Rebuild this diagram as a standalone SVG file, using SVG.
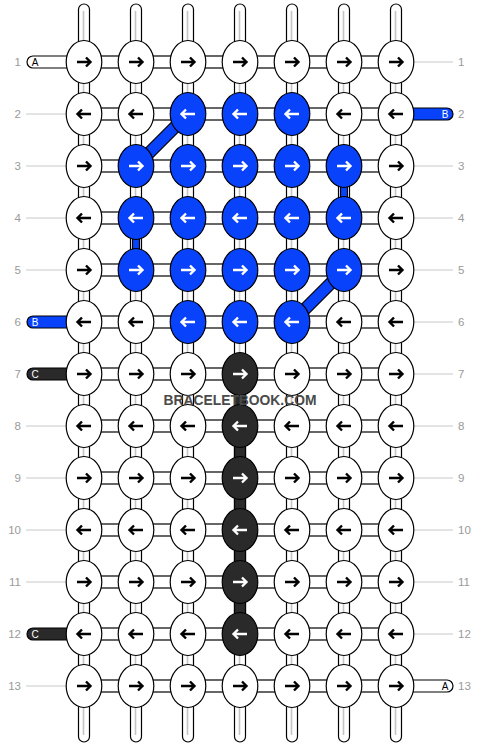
<svg xmlns="http://www.w3.org/2000/svg" xmlns:xlink="http://www.w3.org/1999/xlink" width="480" height="748" viewBox="0 0 480 748">
<style>
.bg{fill:#fff}
.str{fill:#fff;stroke:#000;stroke-width:1.2}
.core{stroke:#c4c4c4;stroke-width:1.6;fill:none}
.hb{fill:#fff;stroke:#000;stroke-width:1.2}
.vb{fill:#0842fb;stroke:#000;stroke-width:1.2}
.vd{fill:#2a2a2a;stroke:#000;stroke-width:1.2}
.gl{stroke:#c8c8c8;stroke-width:1}
.lbl{font-family:"Liberation Sans",Arial,sans-serif;font-size:11.5px;fill:#9a9a9a}
.sl{font-family:"Liberation Sans",Arial,sans-serif;font-size:10px;text-anchor:middle}
.w{fill:#fff;stroke:#000;stroke-width:1.2}
.b{fill:#0842fb;stroke:#000;stroke-width:1.2}
.d{fill:#2a2a2a;stroke:#000;stroke-width:1.2}
.ak{stroke:#000}
.aw{stroke:#fff}
.wm{font-family:"Liberation Sans",Arial,sans-serif;font-weight:bold;font-size:15px;fill:#4a4a4a;text-anchor:middle}
</style>
<defs>
<path id="R" d="M-7,0 H6 M2,-4.5 L6.5,0 L2,4.5" fill="none" stroke-width="2.4"/>
<path id="L" d="M7,0 H-6 M-2,-4.5 L-6.5,0 L-2,4.5" fill="none" stroke-width="2.4"/>
</defs>
<rect class="bg" x="0" y="0" width="480" height="748"/>
<g id="labels">
<g class="gl">
<line x1="26" y1="114" x2="67" y2="114"/><line x1="26" y1="166" x2="67" y2="166"/><line x1="26" y1="218" x2="67" y2="218"/><line x1="26" y1="270" x2="67" y2="270"/><line x1="26" y1="426" x2="67" y2="426"/><line x1="26" y1="478" x2="67" y2="478"/><line x1="26" y1="530" x2="67" y2="530"/><line x1="26" y1="582" x2="67" y2="582"/><line x1="26" y1="686" x2="67" y2="686"/>
<line x1="413" y1="62" x2="453" y2="62"/><line x1="413" y1="166" x2="453" y2="166"/><line x1="413" y1="218" x2="453" y2="218"/><line x1="413" y1="270" x2="453" y2="270"/><line x1="413" y1="322" x2="453" y2="322"/><line x1="413" y1="374" x2="453" y2="374"/><line x1="413" y1="426" x2="453" y2="426"/><line x1="413" y1="478" x2="453" y2="478"/><line x1="413" y1="530" x2="453" y2="530"/><line x1="413" y1="582" x2="453" y2="582"/><line x1="413" y1="634" x2="453" y2="634"/>
</g>
<g class="lbl" text-anchor="end">
<text x="21" y="66">1</text><text x="21" y="118">2</text><text x="21" y="170">3</text><text x="21" y="222">4</text><text x="21" y="274">5</text><text x="21" y="326">6</text><text x="21" y="378">7</text><text x="21" y="430">8</text><text x="21" y="482">9</text><text x="21" y="534">10</text><text x="21" y="586">11</text><text x="21" y="638">12</text><text x="21" y="690">13</text>
</g>
<g class="lbl" text-anchor="start">
<text x="458" y="66">1</text><text x="458" y="118">2</text><text x="458" y="170">3</text><text x="458" y="222">4</text><text x="458" y="274">5</text><text x="458" y="326">6</text><text x="458" y="378">7</text><text x="458" y="430">8</text><text x="458" y="482">9</text><text x="458" y="534">10</text><text x="458" y="586">11</text><text x="458" y="638">12</text><text x="458" y="690">13</text>
</g>
</g>
<g id="connectors">
<g class="str">
<rect x="78.5" y="4" width="11" height="738" rx="5.5"/>
<rect x="130.5" y="4" width="11" height="738" rx="5.5"/>
<rect x="182.5" y="4" width="11" height="738" rx="5.5"/>
<rect x="234.5" y="4" width="11" height="738" rx="5.5"/>
<rect x="286.5" y="4" width="11" height="738" rx="5.5"/>
<rect x="338.5" y="4" width="11" height="738" rx="5.5"/>
<rect x="390.5" y="4" width="11" height="738" rx="5.5"/>
</g>
<g class="core">
<line x1="83.5" y1="11" x2="83.5" y2="735"/>
<line x1="135.5" y1="11" x2="135.5" y2="735"/>
<line x1="187.5" y1="11" x2="187.5" y2="735"/>
<line x1="239.5" y1="11" x2="239.5" y2="735"/>
<line x1="291.5" y1="11" x2="291.5" y2="735"/>
<line x1="343.5" y1="11" x2="343.5" y2="735"/>
<line x1="395.5" y1="11" x2="395.5" y2="735"/>
</g>
<rect class="vb" x="340.5" y="166" width="7" height="52"/>
<rect class="vb" x="132.5" y="218" width="7" height="52"/>
<rect class="vd" x="234.5" y="374" width="11" height="260"/>
<g class="hb">
<rect x="84" y="56" width="312" height="12"/>
<rect x="84" y="108" width="312" height="12"/>
<rect x="84" y="160" width="312" height="12"/>
<rect x="84" y="212" width="312" height="12"/>
<rect x="84" y="264" width="312" height="12"/>
<rect x="84" y="316" width="312" height="12"/>
<rect x="84" y="368" width="312" height="12"/>
<rect x="84" y="420" width="312" height="12"/>
<rect x="84" y="472" width="312" height="12"/>
<rect x="84" y="524" width="312" height="12"/>
<rect x="84" y="576" width="312" height="12"/>
<rect x="84" y="628" width="312" height="12"/>
<rect x="84" y="680" width="312" height="12"/>
</g>
<line x1="188" y1="114" x2="136" y2="166" stroke="#000" stroke-width="13"/>
<line x1="188" y1="114" x2="136" y2="166" stroke="#0842fb" stroke-width="10.6"/>
<line x1="344" y1="270" x2="292" y2="322" stroke="#000" stroke-width="13"/>
<line x1="344" y1="270" x2="292" y2="322" stroke="#0842fb" stroke-width="10.6"/>
<path class="str" d="M84,56 H33 A6,6 0 0 0 33,68 H84 Z"/>
<path class="vb" d="M84,316 H33 A6,6 0 0 0 33,328 H84 Z"/>
<path class="vd" d="M84,368 H33 A6,6 0 0 0 33,380 H84 Z"/>
<path class="vd" d="M84,628 H33 A6,6 0 0 0 33,640 H84 Z"/>
<path class="vb" d="M396,108 H447 A6,6 0 0 1 447,120 H396 Z"/>
<path class="str" d="M396,680 H447 A6,6 0 0 1 447,692 H396 Z"/>
<text class="sl" x="35" y="65.5" fill="#000">A</text>
<text class="sl" x="35" y="325.5" fill="#fff">B</text>
<text class="sl" x="35" y="377.5" fill="#fff">C</text>
<text class="sl" x="35" y="637.5" fill="#fff">C</text>
<text class="sl" x="445" y="117.5" fill="#fff">B</text>
<text class="sl" x="445" y="689.5" fill="#000">A</text>
</g>
<g id="knots">
<g id="k1_1" transform="translate(84,62)"><ellipse class="w" rx="17.8" ry="21.5"/><use href="#R" class="ak"/></g>
<g id="k1_2" transform="translate(136,62)"><ellipse class="w" rx="17.8" ry="21.5"/><use href="#R" class="ak"/></g>
<g id="k1_3" transform="translate(188,62)"><ellipse class="w" rx="17.8" ry="21.5"/><use href="#R" class="ak"/></g>
<g id="k1_4" transform="translate(240,62)"><ellipse class="w" rx="17.8" ry="21.5"/><use href="#R" class="ak"/></g>
<g id="k1_5" transform="translate(292,62)"><ellipse class="w" rx="17.8" ry="21.5"/><use href="#R" class="ak"/></g>
<g id="k1_6" transform="translate(344,62)"><ellipse class="w" rx="17.8" ry="21.5"/><use href="#R" class="ak"/></g>
<g id="k1_7" transform="translate(396,62)"><ellipse class="w" rx="17.8" ry="21.5"/><use href="#R" class="ak"/></g>

<g id="k2_1" transform="translate(84,114)"><ellipse class="w" rx="17.8" ry="21.5"/><use href="#L" class="ak"/></g>
<g id="k2_2" transform="translate(136,114)"><ellipse class="w" rx="17.8" ry="21.5"/><use href="#L" class="ak"/></g>
<g id="k2_3" transform="translate(188,114)"><ellipse class="b" rx="17.8" ry="21.5"/><use href="#L" class="aw"/></g>
<g id="k2_4" transform="translate(240,114)"><ellipse class="b" rx="17.8" ry="21.5"/><use href="#L" class="aw"/></g>
<g id="k2_5" transform="translate(292,114)"><ellipse class="b" rx="17.8" ry="21.5"/><use href="#L" class="aw"/></g>
<g id="k2_6" transform="translate(344,114)"><ellipse class="w" rx="17.8" ry="21.5"/><use href="#L" class="ak"/></g>
<g id="k2_7" transform="translate(396,114)"><ellipse class="w" rx="17.8" ry="21.5"/><use href="#L" class="ak"/></g>

<g id="k3_1" transform="translate(84,166)"><ellipse class="w" rx="17.8" ry="21.5"/><use href="#R" class="ak"/></g>
<g id="k3_2" transform="translate(136,166)"><ellipse class="b" rx="17.8" ry="21.5"/><use href="#R" class="aw"/></g>
<g id="k3_3" transform="translate(188,166)"><ellipse class="b" rx="17.8" ry="21.5"/><use href="#R" class="aw"/></g>
<g id="k3_4" transform="translate(240,166)"><ellipse class="b" rx="17.8" ry="21.5"/><use href="#R" class="aw"/></g>
<g id="k3_5" transform="translate(292,166)"><ellipse class="b" rx="17.8" ry="21.5"/><use href="#R" class="aw"/></g>
<g id="k3_6" transform="translate(344,166)"><ellipse class="b" rx="17.8" ry="21.5"/><use href="#R" class="aw"/></g>
<g id="k3_7" transform="translate(396,166)"><ellipse class="w" rx="17.8" ry="21.5"/><use href="#R" class="ak"/></g>

<g id="k4_1" transform="translate(84,218)"><ellipse class="w" rx="17.8" ry="21.5"/><use href="#L" class="ak"/></g>
<g id="k4_2" transform="translate(136,218)"><ellipse class="b" rx="17.8" ry="21.5"/><use href="#L" class="aw"/></g>
<g id="k4_3" transform="translate(188,218)"><ellipse class="b" rx="17.8" ry="21.5"/><use href="#L" class="aw"/></g>
<g id="k4_4" transform="translate(240,218)"><ellipse class="b" rx="17.8" ry="21.5"/><use href="#L" class="aw"/></g>
<g id="k4_5" transform="translate(292,218)"><ellipse class="b" rx="17.8" ry="21.5"/><use href="#L" class="aw"/></g>
<g id="k4_6" transform="translate(344,218)"><ellipse class="b" rx="17.8" ry="21.5"/><use href="#L" class="aw"/></g>
<g id="k4_7" transform="translate(396,218)"><ellipse class="w" rx="17.8" ry="21.5"/><use href="#L" class="ak"/></g>

<g id="k5_1" transform="translate(84,270)"><ellipse class="w" rx="17.8" ry="21.5"/><use href="#R" class="ak"/></g>
<g id="k5_2" transform="translate(136,270)"><ellipse class="b" rx="17.8" ry="21.5"/><use href="#R" class="aw"/></g>
<g id="k5_3" transform="translate(188,270)"><ellipse class="b" rx="17.8" ry="21.5"/><use href="#R" class="aw"/></g>
<g id="k5_4" transform="translate(240,270)"><ellipse class="b" rx="17.8" ry="21.5"/><use href="#R" class="aw"/></g>
<g id="k5_5" transform="translate(292,270)"><ellipse class="b" rx="17.8" ry="21.5"/><use href="#R" class="aw"/></g>
<g id="k5_6" transform="translate(344,270)"><ellipse class="b" rx="17.8" ry="21.5"/><use href="#R" class="aw"/></g>
<g id="k5_7" transform="translate(396,270)"><ellipse class="w" rx="17.8" ry="21.5"/><use href="#R" class="ak"/></g>

<g id="k6_1" transform="translate(84,322)"><ellipse class="w" rx="17.8" ry="21.5"/><use href="#L" class="ak"/></g>
<g id="k6_2" transform="translate(136,322)"><ellipse class="w" rx="17.8" ry="21.5"/><use href="#L" class="ak"/></g>
<g id="k6_3" transform="translate(188,322)"><ellipse class="b" rx="17.8" ry="21.5"/><use href="#L" class="aw"/></g>
<g id="k6_4" transform="translate(240,322)"><ellipse class="b" rx="17.8" ry="21.5"/><use href="#L" class="aw"/></g>
<g id="k6_5" transform="translate(292,322)"><ellipse class="b" rx="17.8" ry="21.5"/><use href="#L" class="aw"/></g>
<g id="k6_6" transform="translate(344,322)"><ellipse class="w" rx="17.8" ry="21.5"/><use href="#L" class="ak"/></g>
<g id="k6_7" transform="translate(396,322)"><ellipse class="w" rx="17.8" ry="21.5"/><use href="#L" class="ak"/></g>

<g id="k7_1" transform="translate(84,374)"><ellipse class="w" rx="17.8" ry="21.5"/><use href="#R" class="ak"/></g>
<g id="k7_2" transform="translate(136,374)"><ellipse class="w" rx="17.8" ry="21.5"/><use href="#R" class="ak"/></g>
<g id="k7_3" transform="translate(188,374)"><ellipse class="w" rx="17.8" ry="21.5"/><use href="#R" class="ak"/></g>
<g id="k7_4" transform="translate(240,374)"><ellipse class="d" rx="17.8" ry="21.5"/><use href="#R" class="aw"/></g>
<g id="k7_5" transform="translate(292,374)"><ellipse class="w" rx="17.8" ry="21.5"/><use href="#R" class="ak"/></g>
<g id="k7_6" transform="translate(344,374)"><ellipse class="w" rx="17.8" ry="21.5"/><use href="#R" class="ak"/></g>
<g id="k7_7" transform="translate(396,374)"><ellipse class="w" rx="17.8" ry="21.5"/><use href="#R" class="ak"/></g>

<g id="k8_1" transform="translate(84,426)"><ellipse class="w" rx="17.8" ry="21.5"/><use href="#L" class="ak"/></g>
<g id="k8_2" transform="translate(136,426)"><ellipse class="w" rx="17.8" ry="21.5"/><use href="#L" class="ak"/></g>
<g id="k8_3" transform="translate(188,426)"><ellipse class="w" rx="17.8" ry="21.5"/><use href="#L" class="ak"/></g>
<g id="k8_4" transform="translate(240,426)"><ellipse class="d" rx="17.8" ry="21.5"/><use href="#L" class="aw"/></g>
<g id="k8_5" transform="translate(292,426)"><ellipse class="w" rx="17.8" ry="21.5"/><use href="#L" class="ak"/></g>
<g id="k8_6" transform="translate(344,426)"><ellipse class="w" rx="17.8" ry="21.5"/><use href="#L" class="ak"/></g>
<g id="k8_7" transform="translate(396,426)"><ellipse class="w" rx="17.8" ry="21.5"/><use href="#L" class="ak"/></g>

<g id="k9_1" transform="translate(84,478)"><ellipse class="w" rx="17.8" ry="21.5"/><use href="#R" class="ak"/></g>
<g id="k9_2" transform="translate(136,478)"><ellipse class="w" rx="17.8" ry="21.5"/><use href="#R" class="ak"/></g>
<g id="k9_3" transform="translate(188,478)"><ellipse class="w" rx="17.8" ry="21.5"/><use href="#R" class="ak"/></g>
<g id="k9_4" transform="translate(240,478)"><ellipse class="d" rx="17.8" ry="21.5"/><use href="#R" class="aw"/></g>
<g id="k9_5" transform="translate(292,478)"><ellipse class="w" rx="17.8" ry="21.5"/><use href="#R" class="ak"/></g>
<g id="k9_6" transform="translate(344,478)"><ellipse class="w" rx="17.8" ry="21.5"/><use href="#R" class="ak"/></g>
<g id="k9_7" transform="translate(396,478)"><ellipse class="w" rx="17.8" ry="21.5"/><use href="#R" class="ak"/></g>

<g id="k10_1" transform="translate(84,530)"><ellipse class="w" rx="17.8" ry="21.5"/><use href="#L" class="ak"/></g>
<g id="k10_2" transform="translate(136,530)"><ellipse class="w" rx="17.8" ry="21.5"/><use href="#L" class="ak"/></g>
<g id="k10_3" transform="translate(188,530)"><ellipse class="w" rx="17.8" ry="21.5"/><use href="#L" class="ak"/></g>
<g id="k10_4" transform="translate(240,530)"><ellipse class="d" rx="17.8" ry="21.5"/><use href="#L" class="aw"/></g>
<g id="k10_5" transform="translate(292,530)"><ellipse class="w" rx="17.8" ry="21.5"/><use href="#L" class="ak"/></g>
<g id="k10_6" transform="translate(344,530)"><ellipse class="w" rx="17.8" ry="21.5"/><use href="#L" class="ak"/></g>
<g id="k10_7" transform="translate(396,530)"><ellipse class="w" rx="17.8" ry="21.5"/><use href="#L" class="ak"/></g>

<g id="k11_1" transform="translate(84,582)"><ellipse class="w" rx="17.8" ry="21.5"/><use href="#R" class="ak"/></g>
<g id="k11_2" transform="translate(136,582)"><ellipse class="w" rx="17.8" ry="21.5"/><use href="#R" class="ak"/></g>
<g id="k11_3" transform="translate(188,582)"><ellipse class="w" rx="17.8" ry="21.5"/><use href="#R" class="ak"/></g>
<g id="k11_4" transform="translate(240,582)"><ellipse class="d" rx="17.8" ry="21.5"/><use href="#R" class="aw"/></g>
<g id="k11_5" transform="translate(292,582)"><ellipse class="w" rx="17.8" ry="21.5"/><use href="#R" class="ak"/></g>
<g id="k11_6" transform="translate(344,582)"><ellipse class="w" rx="17.8" ry="21.5"/><use href="#R" class="ak"/></g>
<g id="k11_7" transform="translate(396,582)"><ellipse class="w" rx="17.8" ry="21.5"/><use href="#R" class="ak"/></g>

<g id="k12_1" transform="translate(84,634)"><ellipse class="w" rx="17.8" ry="21.5"/><use href="#L" class="ak"/></g>
<g id="k12_2" transform="translate(136,634)"><ellipse class="w" rx="17.8" ry="21.5"/><use href="#L" class="ak"/></g>
<g id="k12_3" transform="translate(188,634)"><ellipse class="w" rx="17.8" ry="21.5"/><use href="#L" class="ak"/></g>
<g id="k12_4" transform="translate(240,634)"><ellipse class="d" rx="17.8" ry="21.5"/><use href="#L" class="aw"/></g>
<g id="k12_5" transform="translate(292,634)"><ellipse class="w" rx="17.8" ry="21.5"/><use href="#L" class="ak"/></g>
<g id="k12_6" transform="translate(344,634)"><ellipse class="w" rx="17.8" ry="21.5"/><use href="#L" class="ak"/></g>
<g id="k12_7" transform="translate(396,634)"><ellipse class="w" rx="17.8" ry="21.5"/><use href="#L" class="ak"/></g>

<g id="k13_1" transform="translate(84,686)"><ellipse class="w" rx="17.8" ry="21.5"/><use href="#R" class="ak"/></g>
<g id="k13_2" transform="translate(136,686)"><ellipse class="w" rx="17.8" ry="21.5"/><use href="#R" class="ak"/></g>
<g id="k13_3" transform="translate(188,686)"><ellipse class="w" rx="17.8" ry="21.5"/><use href="#R" class="ak"/></g>
<g id="k13_4" transform="translate(240,686)"><ellipse class="w" rx="17.8" ry="21.5"/><use href="#R" class="ak"/></g>
<g id="k13_5" transform="translate(292,686)"><ellipse class="w" rx="17.8" ry="21.5"/><use href="#R" class="ak"/></g>
<g id="k13_6" transform="translate(344,686)"><ellipse class="w" rx="17.8" ry="21.5"/><use href="#R" class="ak"/></g>
<g id="k13_7" transform="translate(396,686)"><ellipse class="w" rx="17.8" ry="21.5"/><use href="#R" class="ak"/></g>
</g>
<text id="watermark" class="wm" x="240" y="405" textLength="153" lengthAdjust="spacingAndGlyphs">BRACELETBOOK.COM</text>
</svg>
